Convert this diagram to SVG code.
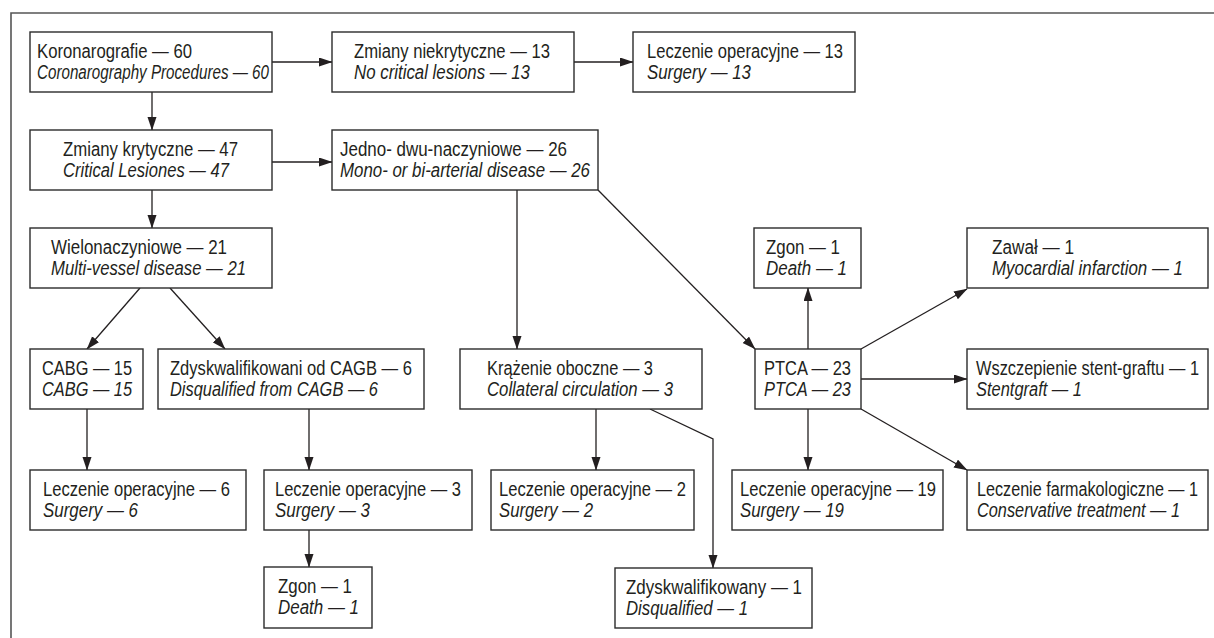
<svg xmlns="http://www.w3.org/2000/svg" width="1214" height="638" viewBox="0 0 1214 638">
<style>
.box{fill:#fff;stroke:#2b2b2b;stroke-width:1.4}
.t{font-family:"Liberation Sans",Arial,sans-serif;font-size:19.5px;fill:#231f20}
.i{font-style:italic}
.c{fill:none;stroke:#231f20;stroke-width:1.3;marker-end:url(#ah)}
.frame{fill:none;stroke:#555;stroke-width:1.6}
</style>
<defs>
<marker id="ah" markerUnits="userSpaceOnUse" markerWidth="14" markerHeight="10" refX="13" refY="4.5" orient="auto">
<path d="M0,0 L13.5,4.5 L0,9 z" fill="#231f20"/>
</marker>
</defs>
<rect width="1214" height="638" fill="#fff"/>
<path class="frame" d="M11,638 V13 H1214"/>

<g id="connectors">
<path class="c" d="M272,62 H332"/>
<path class="c" d="M574,62 H633"/>
<path class="c" d="M152,92 V130"/>
<path class="c" d="M272,162 H332"/>
<path class="c" d="M152,190 V228"/>
<path class="c" d="M140,288 L87,349"/>
<path class="c" d="M170,288 L225,349"/>
<path class="c" d="M87,409 V470"/>
<path class="c" d="M309,409 V470"/>
<path class="c" d="M309,530 V567"/>
<path class="c" d="M517,190 V349"/>
<path class="c" d="M598,190 L755,349"/>
<path class="c" d="M596,409 V470"/>
<path class="c" d="M650,409 L713,439 V568"/>
<path class="c" d="M808,349 V288"/>
<path class="c" d="M861,349 L967,289"/>
<path class="c" d="M861,379 H967"/>
<path class="c" d="M861,409 L967,470"/>
<path class="c" d="M808,409 V470"/>
</g>

<g id="n1"><rect class="box" x="30" y="32" width="242" height="60"/>
<text class="t" x="37" y="57.5" textLength="155" lengthAdjust="spacingAndGlyphs">Koronarografie — 60</text>
<text class="t i" x="37" y="79" textLength="232" lengthAdjust="spacingAndGlyphs">Coronarography Procedures — 60</text></g>

<g id="n2"><rect class="box" x="332" y="32" width="242" height="60"/>
<text class="t" x="354" y="57.5" textLength="196" lengthAdjust="spacingAndGlyphs">Zmiany niekrytyczne — 13</text>
<text class="t i" x="354" y="79" textLength="176" lengthAdjust="spacingAndGlyphs">No critical lesions — 13</text></g>

<g id="n3"><rect class="box" x="633" y="32" width="222" height="60"/>
<text class="t" x="647" y="57.5" textLength="196" lengthAdjust="spacingAndGlyphs">Leczenie operacyjne — 13</text>
<text class="t i" x="647" y="79" textLength="104" lengthAdjust="spacingAndGlyphs">Surgery — 13</text></g>

<g id="n4"><rect class="box" x="30" y="130" width="242" height="60"/>
<text class="t" x="63" y="155.5" textLength="175" lengthAdjust="spacingAndGlyphs">Zmiany krytyczne — 47</text>
<text class="t i" x="63" y="177" textLength="166" lengthAdjust="spacingAndGlyphs">Critical Lesiones — 47</text></g>

<g id="n5"><rect class="box" x="332" y="130" width="266" height="60"/>
<text class="t" x="340" y="155.5" textLength="227" lengthAdjust="spacingAndGlyphs">Jedno- dwu-naczyniowe — 26</text>
<text class="t i" x="340" y="177" textLength="250" lengthAdjust="spacingAndGlyphs">Mono- or bi-arterial disease — 26</text></g>

<g id="n6"><rect class="box" x="30" y="228" width="242" height="60"/>
<text class="t" x="51" y="253.5" textLength="176" lengthAdjust="spacingAndGlyphs">Wielonaczyniowe — 21</text>
<text class="t i" x="51" y="275" textLength="195" lengthAdjust="spacingAndGlyphs">Multi-vessel disease — 21</text></g>

<g id="n7"><rect class="box" x="30" y="349" width="113" height="60"/>
<text class="t" x="42" y="374.5" textLength="90" lengthAdjust="spacingAndGlyphs">CABG — 15</text>
<text class="t i" x="42" y="396" textLength="90" lengthAdjust="spacingAndGlyphs">CABG — 15</text></g>

<g id="n8"><rect class="box" x="158" y="349" width="266" height="60"/>
<text class="t" x="170" y="374.5" textLength="242" lengthAdjust="spacingAndGlyphs">Zdyskwalifikowani od CAGB — 6</text>
<text class="t i" x="170" y="396" textLength="208" lengthAdjust="spacingAndGlyphs">Disqualified from CAGB — 6</text></g>

<g id="n9"><rect class="box" x="460" y="349" width="242" height="60"/>
<text class="t" x="487" y="374.5" textLength="166" lengthAdjust="spacingAndGlyphs">Krążenie oboczne — 3</text>
<text class="t i" x="487" y="396" textLength="186" lengthAdjust="spacingAndGlyphs">Collateral circulation — 3</text></g>

<g id="n10"><rect class="box" x="755" y="349" width="106" height="60"/>
<text class="t" x="764" y="374.5" textLength="87" lengthAdjust="spacingAndGlyphs">PTCA — 23</text>
<text class="t i" x="764" y="396" textLength="87" lengthAdjust="spacingAndGlyphs">PTCA — 23</text></g>

<g id="n11"><rect class="box" x="754" y="228" width="107" height="60"/>
<text class="t" x="766" y="253.5" textLength="74" lengthAdjust="spacingAndGlyphs">Zgon — 1</text>
<text class="t i" x="766" y="275" textLength="81" lengthAdjust="spacingAndGlyphs">Death — 1</text></g>

<g id="n12"><rect class="box" x="967" y="228" width="241" height="60"/>
<text class="t" x="992" y="253.5" textLength="82" lengthAdjust="spacingAndGlyphs">Zawał — 1</text>
<text class="t i" x="992" y="275" textLength="191" lengthAdjust="spacingAndGlyphs">Myocardial infarction — 1</text></g>

<g id="n13"><rect class="box" x="967" y="349" width="241" height="60"/>
<text class="t" x="976" y="374.5" textLength="223" lengthAdjust="spacingAndGlyphs">Wszczepienie stent-graftu — 1</text>
<text class="t i" x="976" y="396" textLength="106" lengthAdjust="spacingAndGlyphs">Stentgraft — 1</text></g>

<g id="n14"><rect class="box" x="30" y="470" width="216" height="60"/>
<text class="t" x="43" y="495.5" textLength="187" lengthAdjust="spacingAndGlyphs">Leczenie operacyjne — 6</text>
<text class="t i" x="43" y="517" textLength="95" lengthAdjust="spacingAndGlyphs">Surgery — 6</text></g>

<g id="n15"><rect class="box" x="264" y="470" width="208" height="60"/>
<text class="t" x="275" y="495.5" textLength="186" lengthAdjust="spacingAndGlyphs">Leczenie operacyjne — 3</text>
<text class="t i" x="275" y="517" textLength="95" lengthAdjust="spacingAndGlyphs">Surgery — 3</text></g>

<g id="n16"><rect class="box" x="264" y="567" width="108" height="61"/>
<text class="t" x="278" y="592.5" textLength="74" lengthAdjust="spacingAndGlyphs">Zgon — 1</text>
<text class="t i" x="278" y="614" textLength="81" lengthAdjust="spacingAndGlyphs">Death — 1</text></g>

<g id="n17"><rect class="box" x="491" y="470" width="203" height="60"/>
<text class="t" x="499" y="495.5" textLength="187" lengthAdjust="spacingAndGlyphs">Leczenie operacyjne — 2</text>
<text class="t i" x="499" y="517" textLength="94" lengthAdjust="spacingAndGlyphs">Surgery — 2</text></g>

<g id="n18"><rect class="box" x="615" y="568" width="197" height="60"/>
<text class="t" x="626" y="593.5" textLength="176" lengthAdjust="spacingAndGlyphs">Zdyskwalifikowany — 1</text>
<text class="t i" x="626" y="615" textLength="122" lengthAdjust="spacingAndGlyphs">Disqualified — 1</text></g>

<g id="n19"><rect class="box" x="732" y="470" width="211" height="60"/>
<text class="t" x="740" y="495.5" textLength="196" lengthAdjust="spacingAndGlyphs">Leczenie operacyjne — 19</text>
<text class="t i" x="740" y="517" textLength="104" lengthAdjust="spacingAndGlyphs">Surgery — 19</text></g>

<g id="n20"><rect class="box" x="967" y="470" width="241" height="60"/>
<text class="t" x="977" y="495.5" textLength="221" lengthAdjust="spacingAndGlyphs">Leczenie farmakologiczne — 1</text>
<text class="t i" x="977" y="517" textLength="203" lengthAdjust="spacingAndGlyphs">Conservative treatment — 1</text></g>
</svg>
